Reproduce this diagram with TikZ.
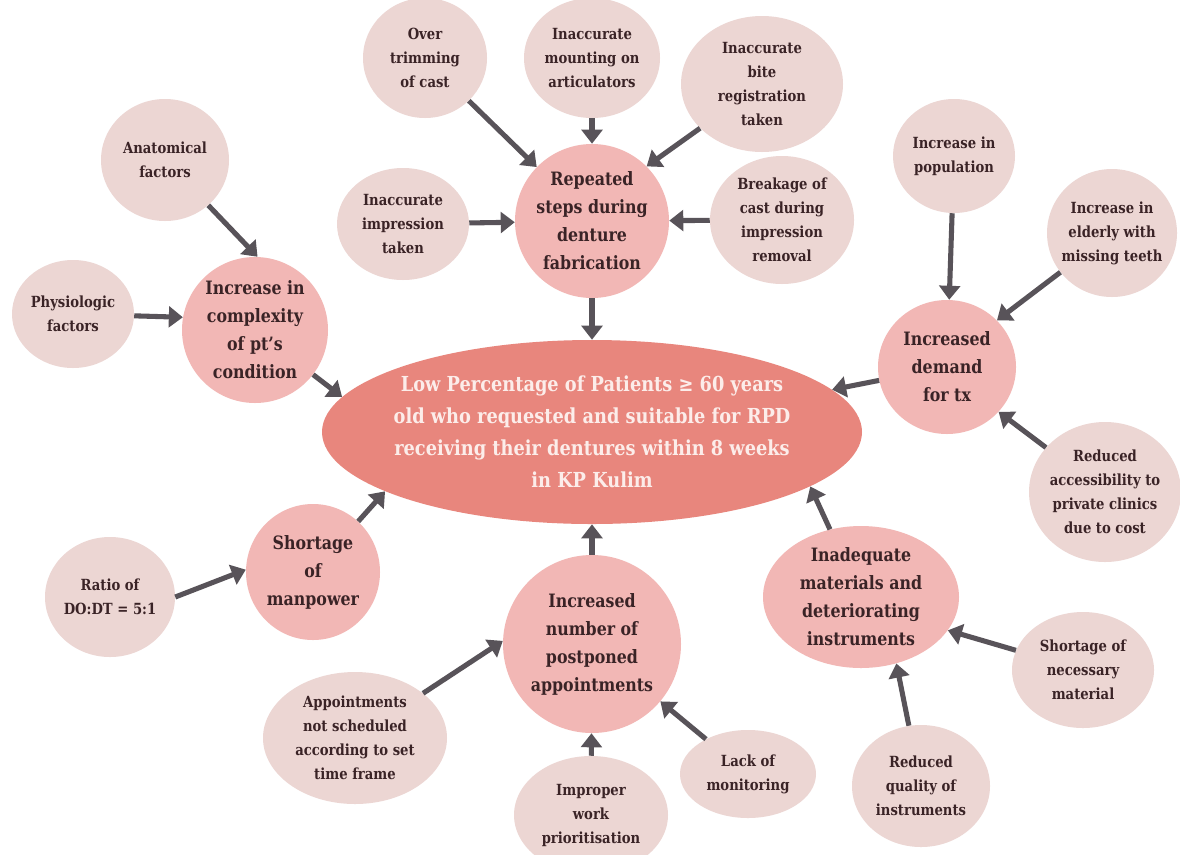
\documentclass[tikz,border=0pt]{standalone}
\usepackage{fontspec}
\setmainfont{DejaVu Serif}[FakeStretch=0.86]
\usetikzlibrary{shapes.geometric,arrows.meta}

\definecolor{coreC}{HTML}{E8867D}
\definecolor{midC}{HTML}{F2B7B5}
\definecolor{leafC}{HTML}{ECD6D3}
\definecolor{arrowC}{HTML}{585359}
\definecolor{inkC}{HTML}{3A2326}
\definecolor{coreInk}{HTML}{FCEDEA}

\newcommand\leaffont{\bfseries\fontsize{11.5}{18}\selectfont}
\newcommand\midfont{\bfseries\fontsize{13.8}{21}\selectfont}
\newcommand\corefont{\bfseries\fontsize{15.5}{24}\selectfont}

\tikzset{
  px/.style 2 args={minimum width=#1*0.75pt, minimum height=#2*0.75pt},
  leaf/.style={ellipse, fill=leafC, draw=none, inner sep=0pt},
  mid/.style={ellipse, fill=midC, draw=none, inner sep=0pt},
  core/.style={ellipse, fill=coreC, draw=none, inner sep=0pt},
  leaftext/.style={align=center, text=inkC, font=\leaffont, inner sep=0pt},
  midtext/.style={align=center, text=inkC, font=\midfont, inner sep=0pt},
  coretext/.style={align=center, text=coreInk, font=\corefont, inner sep=0pt},
  arr/.style={draw=arrowC, line width=3.8pt, -{Triangle[width=15.5pt,length=10.5pt]}},
}

\begin{document}
\begin{tikzpicture}[x=0.75pt, y=-0.75pt]
\useasboundingbox (0,0) rectangle (1180,854);
\fill[white] (0,0) rectangle (1180,854);
\clip (0,0) rectangle (1180,854);

% central problem
\node[core, px={540}{184}] (M) at (592,432) {};
\node[coretext] (Mt) at (M) {Low Percentage of Patients ≥ 60 years\\old who requested and suitable for RPD\\receiving their dentures within 8 weeks\\in KP Kulim};

% main causes
\node[mid, px={154}{154}] (R) at (592,221) {};
\node[midtext] (Rt) at (R) {Repeated\\steps during\\denture\\fabrication};
\node[mid, px={146}{146}] (C) at (255,330) {};
\node[midtext] (Ct) at (C) {Increase in\\complexity\\of pt's\\condition};
\node[mid, px={138}{134}] (D) at (947,367) {};
\node[midtext] (Dt) at (D) {Increased\\demand\\for tx};
\node[mid, px={134}{136}] (S) at (313,572) {};
\node[midtext] (St) at (S) {Shortage\\of\\manpower};
\node[mid, px={178}{178}] (P) at (592,644) {};
\node[midtext] (Pt) at (P) {Increased\\number of\\postponed\\appointments};
\node[mid, px={196}{142}] (IM) at (861,597) {};
\node[midtext] (IMt) at (IM) {Inadequate\\materials and\\deteriorating\\instruments};

% sub causes: denture fabrication
\node[leaf, px={124}{120}] (T1) at (425,58) {};
\node[leaftext] (T1t) at (T1) {Over\\trimming\\of cast};
\node[leaf, px={136}{120}] (T2) at (592,58) {};
\node[leaftext] (T2t) at (T2) {Inaccurate\\mounting on\\articulators};
\node[leaf, px={162}{136}] (T3) at (762,84) {};
\node[leaftext] (T3t) at (T3) {Inaccurate\\bite\\registration\\taken};
\node[leaf, px={132}{112}] (L1) at (403,224) {};
\node[leaftext] (L1t) at (L1) {Inaccurate\\impression\\taken};
\node[leaf, px={144}{128}] (R1) at (782,220) {};
\node[leaftext] (R1t) at (R1) {Breakage of\\cast during\\impression\\removal};

% sub causes: patient condition
\node[leaf, px={128}{122}] (A) at (165,160) {};
\node[leaftext] (At) at (A) {Anatomical\\factors};
\node[leaf, px={122}{108}] (Ph) at (73,314) {};
\node[leaftext] (Pht) at (Ph) {Physiologic\\factors};

% sub causes: demand
\node[leaf, px={122}{114}] (IP) at (954,156) {};
\node[leaftext] (IPt) at (IP) {Increase in\\population};
\node[leaf, px={130}{128}] (IE) at (1112,233) {};
\node[leaftext] (IEt) at (IE) {Increase in\\elderly with\\missing teeth};
\node[leaf, px={152}{140}] (RA) at (1105,492) {};
\node[leaftext] (RAt) at (RA) {Reduced\\accessibility to\\private clinics\\due to cost};

% sub causes: manpower
\node[leaf, px={130}{120}] (RO) at (110,597) {};
\node[leaftext] (ROt) at (RO) {Ratio of\\DO:DT = 5:1};

% sub causes: postponed appointments
\node[leaf, px={184}{132}] (AP) at (355,738) {};
\node[leaftext] (APt) at (AP) {Appointments\\not scheduled\\according to set\\time frame};
\node[leaf, px={154}{118}] (IW) at (591,815) {};
\node[leaftext] (IWt) at (IW) {Improper\\work\\prioritisation};
\node[leaf, px={136}{88}] (LM) at (748,774) {};
\node[leaftext] (LMt) at (LM) {Lack of\\monitoring};

% sub causes: materials
\node[leaf, px={138}{122}] (RQ) at (921,786) {};
\node[leaftext] (RQt) at (RQ) {Reduced\\quality of\\instruments};
\node[leaf, px={142}{116}] (SN) at (1083,670) {};
\node[leaftext] (SNt) at (SN) {Shortage of\\necessary\\material};

% connectors
\draw[arr] (T1) -- (R);
\draw[arr] (T2) -- (R);
\draw[arr] (T3) -- (R.45);
\draw[arr] (L1) -- (R);
\draw[arr] (R1) -- (R);
\draw[arr] (R) -- (M.90);

\draw[arr] (A) -- (C.88);
\draw[arr] (Ph) -- (C.170);
\draw[arr] (C) -- (M.172);

\draw[arr] (IP) -- (D);
\draw[arr] (IE) -- (D.43);
\draw[arr] (RA) -- (D.-41);
\draw[arr] (D) -- (M.10);

\draw[arr] (RO.0) -- (S.178);
\draw[arr] (S) -- (M.196);

\draw[arr] (AP) -- (P.178);
\draw[arr] (IW) -- (P);
\draw[arr] (LM) -- (P.-40);
\draw[arr] (P) -- (M.270);

\draw[arr] (SN) -- (IM.-21);
\draw[arr] (RQ) -- (IM.-62);
\draw[arr] (IM) -- (M.-14);
\end{tikzpicture}
\end{document}
